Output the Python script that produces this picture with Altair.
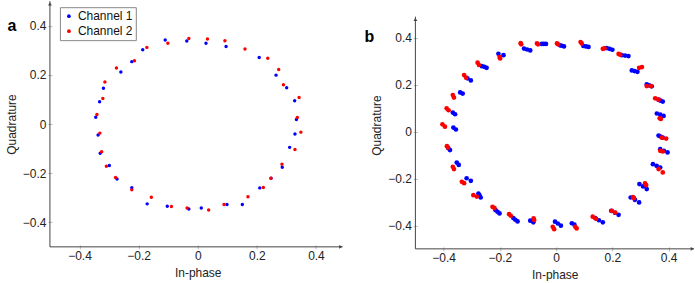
import altair as alt
import pandas as pd

# ---------------- Panel a data ----------------
a_ch1_x = [-0.110, -0.037, 0.028, 0.096, 0.208, 0.265, 0.301, 0.328, 0.334, 0.329, 0.311,
           0.286, 0.248, 0.210, 0.151, 0.099, 0.012, -0.030, -0.103, -0.171, -0.223, -0.273,
           -0.299, -0.330, -0.337, -0.345, -0.332, -0.319, -0.260, -0.223, -0.186]
a_ch1_y = [0.342, 0.338, 0.329, 0.316, 0.271, 0.199, 0.148, 0.095, 0.018, -0.041, -0.095,
           -0.176, -0.221, -0.260, -0.328, -0.328, -0.342, -0.346, -0.335, -0.325, -0.259, -0.224,
           -0.169, -0.119, -0.045, 0.028, 0.091, 0.146, 0.212, 0.254, 0.302]
a_ch2_x = [-0.101, -0.030, 0.033, 0.092, 0.160, 0.237, 0.274, 0.290, 0.343, 0.337, 0.349,
           0.329, 0.285, 0.248, 0.222, 0.170, 0.089, 0.037, -0.036, -0.089, -0.157, -0.223,
           -0.278, -0.309, -0.325, -0.331, -0.341, -0.321, -0.314, -0.275, -0.214, -0.172]
a_ch2_y = [0.329, 0.348, 0.346, 0.339, 0.305, 0.268, 0.222, 0.160, 0.108, 0.027, -0.033,
           -0.104, -0.164, -0.221, -0.258, -0.296, -0.328, -0.350, -0.342, -0.336, -0.298, -0.268,
           -0.218, -0.172, -0.113, -0.037, 0.039, 0.104, 0.171, 0.228, 0.258, 0.312]

# ---------------- Panel b data ----------------
b_ch1_x = [-0.114, -0.103, -0.092, -0.051, -0.044, -0.036, 0.014, 0.021, 0.028, 0.097, 0.106, 0.115,
           0.180, 0.190, 0.200, 0.233, 0.245, 0.257, 0.269, 0.279, 0.289, 0.322, 0.331, 0.340,
           0.364, 0.371, 0.379, 0.358, 0.370, 0.382, 0.364, 0.371, 0.379, 0.370, 0.383, 0.396,
           0.344, 0.357, 0.370, 0.296, 0.309, 0.322, 0.265, 0.280, 0.295, 0.196, 0.209, 0.222,
           0.139, 0.152, 0.166, 0.056, 0.065, -0.004, 0.006, 0.017, -0.092, -0.081,
           -0.152, -0.145, -0.137, -0.215, -0.208, -0.201, -0.276, -0.272, -0.268, -0.318, -0.303,
           -0.353, -0.346, -0.383, -0.377, -0.365, -0.356, -0.367, -0.359, -0.341, -0.332,
           -0.315, -0.303, -0.264, -0.255, -0.247, -0.205, -0.187]
b_ch1_y = [0.354, 0.350, 0.346, 0.374, 0.374, 0.374, 0.368, 0.366, 0.363, 0.365, 0.363, 0.361,
           0.356, 0.353, 0.349, 0.326, 0.324, 0.322, 0.261, 0.258, 0.255, 0.201, 0.197, 0.193,
           0.136, 0.132, 0.128, 0.077, 0.072, 0.067, -0.017, -0.021, -0.026, -0.075, -0.082, -0.089,
           -0.139, -0.146, -0.153, -0.224, -0.234, -0.245, -0.281, -0.291, -0.302, -0.338, -0.346, -0.355,
           -0.369, -0.378, -0.387, -0.391, -0.397, -0.384, -0.392, -0.401, -0.380, -0.387,
           -0.369, -0.376, -0.383, -0.335, -0.342, -0.349, -0.264, -0.272, -0.281, -0.199, -0.210,
           -0.132, -0.142, -0.071, -0.079, 0.017, 0.009, 0.081, 0.074, 0.167, 0.162,
           0.227, 0.218, 0.279, 0.276, 0.272, 0.332, 0.326]
b_ch2_x = [-0.126, -0.124, -0.068, -0.064, 0.003, 0.007, 0.087, 0.091, 0.166, 0.172, 0.222, 0.228,
           0.295, 0.305, 0.322, 0.337, 0.352, 0.364, 0.368, 0.372, 0.376, 0.391, 0.370, 0.379,
           0.364, 0.379, 0.316, 0.320, 0.273, 0.277, 0.198, 0.210, 0.130, 0.142, 0.068, 0.073,
           -0.012, -0.007, -0.080, -0.078, -0.167, -0.161, -0.226, -0.219, -0.294, -0.282,
           -0.335, -0.327, -0.367, -0.363, -0.388, -0.384, -0.404, -0.395, -0.389, -0.382,
           -0.367, -0.363, -0.327, -0.320, -0.279, -0.274, -0.201, -0.199]
b_ch2_y = [0.377, 0.372, 0.376, 0.372, 0.376, 0.372, 0.382, 0.376, 0.353, 0.355, 0.331, 0.328,
           0.272, 0.275, 0.194, 0.194, 0.142, 0.136, 0.057, 0.054, -0.026, -0.030, -0.082, -0.085,
           -0.160, -0.174, -0.221, -0.228, -0.279, -0.284, -0.338, -0.345, -0.363, -0.372, -0.406, -0.413,
           -0.406, -0.416, -0.370, -0.377, -0.352, -0.359, -0.321, -0.326, -0.271, -0.277,
           -0.214, -0.220, -0.150, -0.160, -0.062, -0.068, 0.031, 0.021, 0.099, 0.091,
           0.156, 0.145, 0.241, 0.230, 0.294, 0.284, 0.318, 0.312]

series = ["Channel 1", "Channel 2"]
colors = ["#0000ff", "#ff0000"]
tick_values = [-0.4, -0.2, 0, 0.2, 0.4]

FONT = "Liberation Sans"
AXIS_COLOR = "#444444"


def frame(xs1, ys1, xs2, ys2):
    d1 = pd.DataFrame({"x": xs1, "y": ys1, "series": series[0]})
    d2 = pd.DataFrame({"x": xs2, "y": ys2, "series": series[1]})
    return pd.concat([d1, d2], ignore_index=True)


label_expr = ("datum.value < 0 ? '\u2212' + format(abs(datum.value), '.1f') : "
              "(datum.value == 0 ? '0' : format(datum.value, '.1f'))")


def axis(title, title_pad):
    return alt.Axis(values=tick_values, labelExpr=label_expr, domain=False, grid=False,
                    ticks=True, tickSize=4, tickColor="#bbbbbb", offset=-2,
                    labelFontSize=12, labelFont=FONT, labelColor="#222222", labelPadding=2,
                    title=title, titleFont=FONT, titleFontSize=12, titleFontWeight="normal",
                    titleColor="#222222", titlePadding=title_pad)


def panel(df, xdom, ydom, xend, yend, w, h, size, letter, letter_x, letter_y, legend):
    xs = alt.Scale(domain=xdom, nice=False, zero=False)
    ys = alt.Scale(domain=ydom, nice=False, zero=False)
    pts = alt.Chart(df).mark_circle(size=size, opacity=1).encode(
        x=alt.X("x:Q", scale=xs, axis=axis("In-phase", 6)),
        y=alt.Y("y:Q", scale=ys, axis=axis("Quadrature", 4)),
        color=alt.Color("series:N", scale=alt.Scale(domain=series, range=colors), legend=legend),
        order=alt.Order("series:N"),
    )
    xline = alt.Chart().mark_rule(color=AXIS_COLOR, strokeWidth=1).encode(
        x=alt.datum(xdom[0]), x2=alt.datum(xend), y=alt.datum(ydom[0]))
    yline = alt.Chart().mark_rule(color=AXIS_COLOR, strokeWidth=1).encode(
        x=alt.datum(xdom[0]), y=alt.datum(ydom[0]), y2=alt.datum(yend))
    xarrow = alt.Chart().mark_point(shape="triangle-right", filled=True, size=14,
                                    color=AXIS_COLOR, opacity=1).encode(
        x=alt.datum(xend - 0.006), y=alt.datum(ydom[0]))
    yarrow = alt.Chart().mark_point(shape="triangle-up", filled=True, size=14,
                                    color=AXIS_COLOR, opacity=1).encode(
        x=alt.datum(xdom[0]), y=alt.datum(yend - 0.011))
    lab = alt.Chart().mark_text(text=letter, font=FONT, fontSize=16, fontWeight="bold",
                                color="#000000", align="center", baseline="middle").encode(
        x=alt.value(letter_x), y=alt.value(letter_y))
    return alt.layer(pts, xline, yline, xarrow, yarrow, lab).properties(width=w, height=h)


legend_a = alt.Legend(orient="none", legendX=10, legendY=6, title=None,
                      strokeColor="#888888", fillColor="white", padding=3,
                      labelFont=FONT, labelFontSize=12, labelColor="#111111",
                      symbolType="circle", symbolSize=14, symbolStrokeWidth=0,
                      labelOffset=3, rowPadding=3, cornerRadius=0)

panel_a = panel(frame(a_ch1_x, a_ch1_y, a_ch2_x, a_ch2_y),
                [-0.5, 0.5], [-0.5, 0.5], 0.49, 0.5, 296, 246, 12,
                "a", -38, 25, legend_a)
panel_b = panel(frame(b_ch1_x, b_ch1_y, b_ch2_x, b_ch2_y),
                [-0.5, 0.49], [-0.5, 0.556], 0.49, 0.49, 279, 248, 22,
                "b", -46, 36, None)

chart = alt.hconcat(panel_a, panel_b, spacing=19).resolve_scale(
    color="independent").resolve_legend(color="independent").configure(
    padding={"left": 5, "top": 0, "right": 0, "bottom": 0}
).configure_view(stroke=None)

chart.save("out.html", embed_options={"renderer": "svg", "actions": False})
